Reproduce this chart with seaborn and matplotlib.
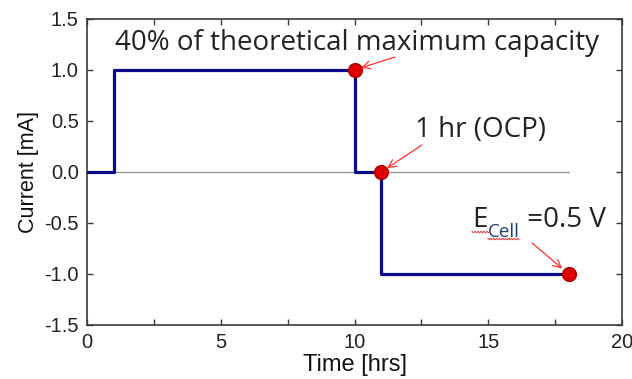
import matplotlib
matplotlib.use("Agg")
import matplotlib.pyplot as plt
import seaborn as sns
import numpy as np
import pandas as pd
from matplotlib.ticker import MultipleLocator
from matplotlib.lines import Line2D

# Galvanostatic protocol: current steps over time
step_time_hrs = [0, 1, 10, 11, 18]
step_current_ma = [0.0, 1.0, 0.0, -1.0, -1.0]

# Key events marked on the profile
event_time_hrs = [10, 11, 18]
event_current_ma = [1.0, 0.0, -1.0]

# Zero-current reference line
baseline_time_hrs = [0, 18]
baseline_current_ma = [0.0, 0.0]

x_ticks = [0, 5, 10, 15, 20]
y_ticks = [-1.5, -1.0, -0.5, 0.0, 0.5, 1.0, 1.5]

sns.set_theme(style="white")
plt.rcParams["font.family"] = ["Liberation Sans", "DejaVu Sans"]

steps = pd.DataFrame({"t": step_time_hrs, "i": step_current_ma})
events = pd.DataFrame({"t": event_time_hrs, "i": event_current_ma})
base = pd.DataFrame({"t": baseline_time_hrs, "i": baseline_current_ma})

fig = plt.figure(figsize=(6.32, 3.79), dpi=100)
ax = fig.add_axes([0.1377, 0.1425, 0.8465, 0.8074])

sns.lineplot(data=base, x="t", y="i", ax=ax, color="#8c8c8c", lw=0.9,
             estimator=None, sort=False)
sns.lineplot(data=steps, x="t", y="i", ax=ax, color="#0a0a8a", lw=2.3,
             drawstyle="steps-post", estimator=None, sort=False, zorder=3)
sns.scatterplot(data=events, x="t", y="i", ax=ax, color="#e00000",
                edgecolor="#b00000", linewidth=1.2, s=95, zorder=4)

ax.set_xlim(0, 20)
ax.set_ylim(-1.5, 1.5)
ax.set_xticks(x_ticks)
ax.set_yticks(y_ticks)
ax.set_xticklabels([f"{v:d}" for v in x_ticks])
ax.set_yticklabels([f"{v:.1f}" for v in y_ticks])
ax.xaxis.set_minor_locator(MultipleLocator(2.5))

for s in ax.spines.values():
    s.set_visible(True)
    s.set_color("#3a3a3a")
    s.set_linewidth(1.2)

ax.tick_params(which="both", direction="in", top=True, right=True,
               bottom=True, left=True, length=4, width=1, color="#3a3a3a",
               labelsize=14.5, labelcolor="#222222")
ax.tick_params(axis="x", pad=6)
ax.tick_params(axis="y", pad=6)

ax.set_xlabel("Time [hrs]", fontsize=17, labelpad=1, color="#111111")
ax.set_ylabel("Current [mA]", fontsize=15.5, labelpad=4, color="#111111")

note_font = ["Open Sans", "DejaVu Sans"]
note_kw = dict(family=note_font, fontsize=20, color="#222222", va="baseline")
arrow_kw = dict(arrowstyle="->", color="#ff3030", lw=0.9,
                shrinkA=0, mutation_scale=14)

ax.text(1.05, 1.196, "40% of theoretical maximum capacity", **note_kw)
ax.text(12.26, 0.343, "1 hr (OCP)", **note_kw)

# E_Cell label: main letter, subscript, then the value on the same baseline
e_base = -0.54
e_txt = ax.text(14.39, e_base, "E", **note_kw)
cell_txt = ax.annotate("Cell", xy=(1, e_base), xycoords=(e_txt, "data"),
                       xytext=(0.3, -7), textcoords="offset points",
                       family=note_font, fontsize=13.5, color="#1f3f7a",
                       va="baseline")
ax.annotate(" =0.5 V", xy=(1, e_base), xycoords=(cell_txt, "data"),
            xytext=(0, 0), textcoords="offset points", **note_kw)

ax.annotate("", xy=(event_time_hrs[0], event_current_ma[0]),
            xytext=(11.51, 1.127),
            arrowprops=dict(shrinkB=5, **arrow_kw))
ax.annotate("", xy=(event_time_hrs[1], event_current_ma[1]),
            xytext=(12.52, 0.265),
            arrowprops=dict(shrinkB=5, **arrow_kw))
ax.annotate("", xy=(event_time_hrs[2], event_current_ma[2]),
            xytext=(16.64, -0.696),
            arrowprops=dict(shrinkB=6, **arrow_kw))

# Proofing squiggle under the subscripted label
fig.canvas.draw()
renderer = fig.canvas.get_renderer()
e_base_px = ax.transData.transform((0, e_base))[1]
for txt, below, extra in ((e_txt, 5, 3), (cell_txt, 12, 0)):
    bb = txt.get_window_extent(renderer)
    xs = np.arange(bb.x0, bb.x1 + extra + 0.1, 1.5)
    ys = e_base_px - below + np.where(np.arange(xs.size) % 2 == 0, 0.8, -0.8)
    fig.add_artist(Line2D(xs, ys, transform=None, color="#e03a3a",
                          lw=0.7, zorder=5))

fig.savefig("out.png", dpi=100)
